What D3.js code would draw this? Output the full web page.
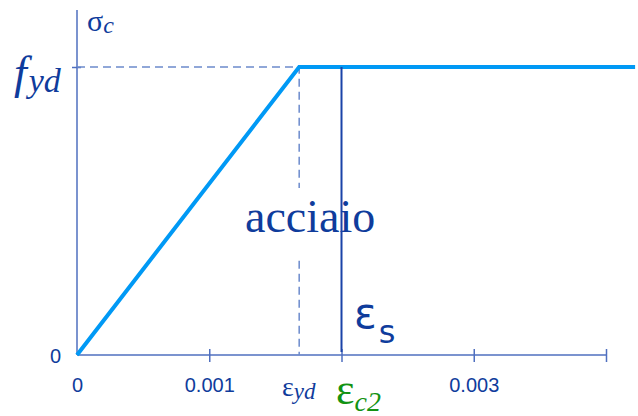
<!DOCTYPE html>
<html lang="en">
<head>
<meta charset="utf-8">
<style type="text/css">
    body { margin: 0; background: #fff; }
    .axis path { display: none; }
    .axis line { stroke: #4f6fbf; stroke-width: 1.5; }
    .axis text {
        font-family: "Liberation Sans", Arial, sans-serif;
        font-size: 20px;
        fill: #0f3c9c;
    }
    .serif { font-family: "Liberation Serif", "Times New Roman", Times, "DejaVu Serif", serif; }
    .sans { font-family: "DejaVu Sans", Verdana, sans-serif; }
</style>
<script src="https://cdn.jsdelivr.net/npm/d3@7"></script>
</head>
<body>
<script>
// strain ticks (x) and their labels
const xTicks = [0, 0.001, 0.002, 0.003, 0.004];
const xTickLabels = ["0", "0.001", "", "0.003", ""];
// stress values (normalised to fyd)
const yTicks = [0, 1];
const yTickLabels = ["0", ""];
// steel diagram: elastic branch then plateau
const epsYd = 0.00168;
const fyd = 1;
const epsC2 = 0.002;
const steelCurve = [[0, 0], [epsYd, fyd], [0.00422, fyd]];

const w = 638, h = 416;
const blue = "#0f3c9c";

const svg = d3.select("body").append("svg")
    .attr("width", w)
    .attr("height", h);

const xScale = d3.scaleLinear().domain([0, 0.004]).range([77, 606]);
const yScale = d3.scaleLinear().domain([0, fyd]).range([355, 67]);

// axis lines
svg.append("line")
    .attr("x1", xScale(0)).attr("x2", xScale(0.004))
    .attr("y1", yScale(0)).attr("y2", yScale(0))
    .attr("stroke", "#4f6fbf").attr("stroke-width", 1.5);
svg.append("line")
    .attr("x1", xScale(0)).attr("x2", xScale(0))
    .attr("y1", yScale(0)).attr("y2", 10)
    .attr("stroke", "#4f6fbf").attr("stroke-width", 1.5);

// x axis ticks crossing the axis line
let xAxis = d3.axisBottom(xScale)
    .tickValues(xTicks)
    .tickFormat((d, i) => xTickLabels[i]);
svg.append("g")
    .attr("class", "axis")
    .attr("transform", "translate(0," + yScale(0) + ")")
    .call(xAxis)
    .call(g => g.selectAll(".tick line").attr("y1", -6).attr("y2", 7))
    .call(g => g.selectAll(".tick line").filter(d => d === 0).remove())
    .call(g => g.selectAll(".tick text").attr("y", 37).attr("dy", 0));

// y axis
let yAxis = d3.axisLeft(yScale)
    .tickValues(yTicks)
    .tickFormat((d, i) => yTickLabels[i]);
svg.append("g")
    .attr("class", "axis")
    .attr("transform", "translate(" + xScale(0) + ",0)")
    .call(yAxis)
    .call(g => g.selectAll(".tick line").attr("x1", 4).attr("x2", -5))
    .call(g => g.selectAll(".tick line").filter(d => d === 0).remove())
    .call(g => g.selectAll(".tick text").attr("x", -16).attr("dy", "0.35em"));

// dashed guides to the yield point
svg.append("path")
    .attr("d", d3.line()([[xScale(0), yScale(fyd)], [xScale(epsYd), yScale(fyd)], [xScale(epsYd), yScale(0)]]))
    .attr("fill", "none")
    .attr("stroke", "#6c8bcc")
    .attr("stroke-width", 1.5)
    .attr("stroke-dasharray", "8,5");

// steel curve
let line = d3.line()
    .x(d => xScale(d[0]))
    .y(d => yScale(d[1]));
svg.append("path")
    .datum(steelCurve)
    .attr("d", line)
    .attr("fill", "none")
    .attr("stroke", "#0099f5")
    .attr("stroke-width", 4)
    .attr("stroke-linejoin", "miter");

// label "acciaio" on a white box
svg.append("rect")
    .attr("x", 243).attr("y", 188)
    .attr("width", 137).attr("height", 70)
    .attr("fill", "#fff");
svg.append("text")
    .attr("class", "serif")
    .attr("x", 245).attr("y", 232)
    .attr("font-size", 46)
    .attr("fill", blue)
    .text("acciaio");

// eps_c2 vertical line
svg.append("line")
    .attr("x1", xScale(epsC2)).attr("x2", xScale(epsC2))
    .attr("y1", yScale(fyd)).attr("y2", yScale(0) - 3)
    .attr("stroke", "#1a43a8")
    .attr("stroke-width", 2);

// sigma_c
let sc = svg.append("text")
    .attr("class", "serif")
    .attr("x", 87).attr("y", 31)
    .attr("fill", blue);
sc.append("tspan").attr("font-size", 30).text("σ");
sc.append("tspan").attr("font-size", 24).attr("font-style", "italic").attr("dy", 2).text("c");

// f_yd
let fl = svg.append("text")
    .attr("class", "serif")
    .attr("x", 14).attr("y", 88)
    .attr("font-style", "italic")
    .attr("fill", blue);
fl.append("tspan").attr("font-size", 46).text("f");
fl.append("tspan").attr("font-size", 34).attr("dy", 4).attr("dx", 2).text("yd");

// eps_yd
let ey = svg.append("text")
    .attr("class", "serif")
    .attr("x", 282).attr("y", 396)
    .attr("fill", blue);
ey.append("tspan").attr("font-size", 28).text("ε");
ey.append("tspan").attr("font-size", 23).attr("font-style", "italic").attr("dy", 3).text("yd");

// eps_c2
let ec = svg.append("text")
    .attr("class", "serif")
    .attr("x", 336).attr("y", 404)
    .attr("fill", "#139313");
ec.append("tspan").attr("font-size", 44).text("ε");
ec.append("tspan").attr("font-size", 28).attr("font-style", "italic").attr("dy", 7).text("c2");

// eps_s
let es = svg.append("text")
    .attr("class", "sans")
    .attr("x", 354).attr("y", 328)
    .attr("fill", blue);
es.append("tspan").attr("font-size", 42).attr("font-weight", 500).text("ε");
es.append("tspan").attr("font-size", 32).attr("dx", 2).attr("dy", 15).text("s");
</script>
</body>
</html>
